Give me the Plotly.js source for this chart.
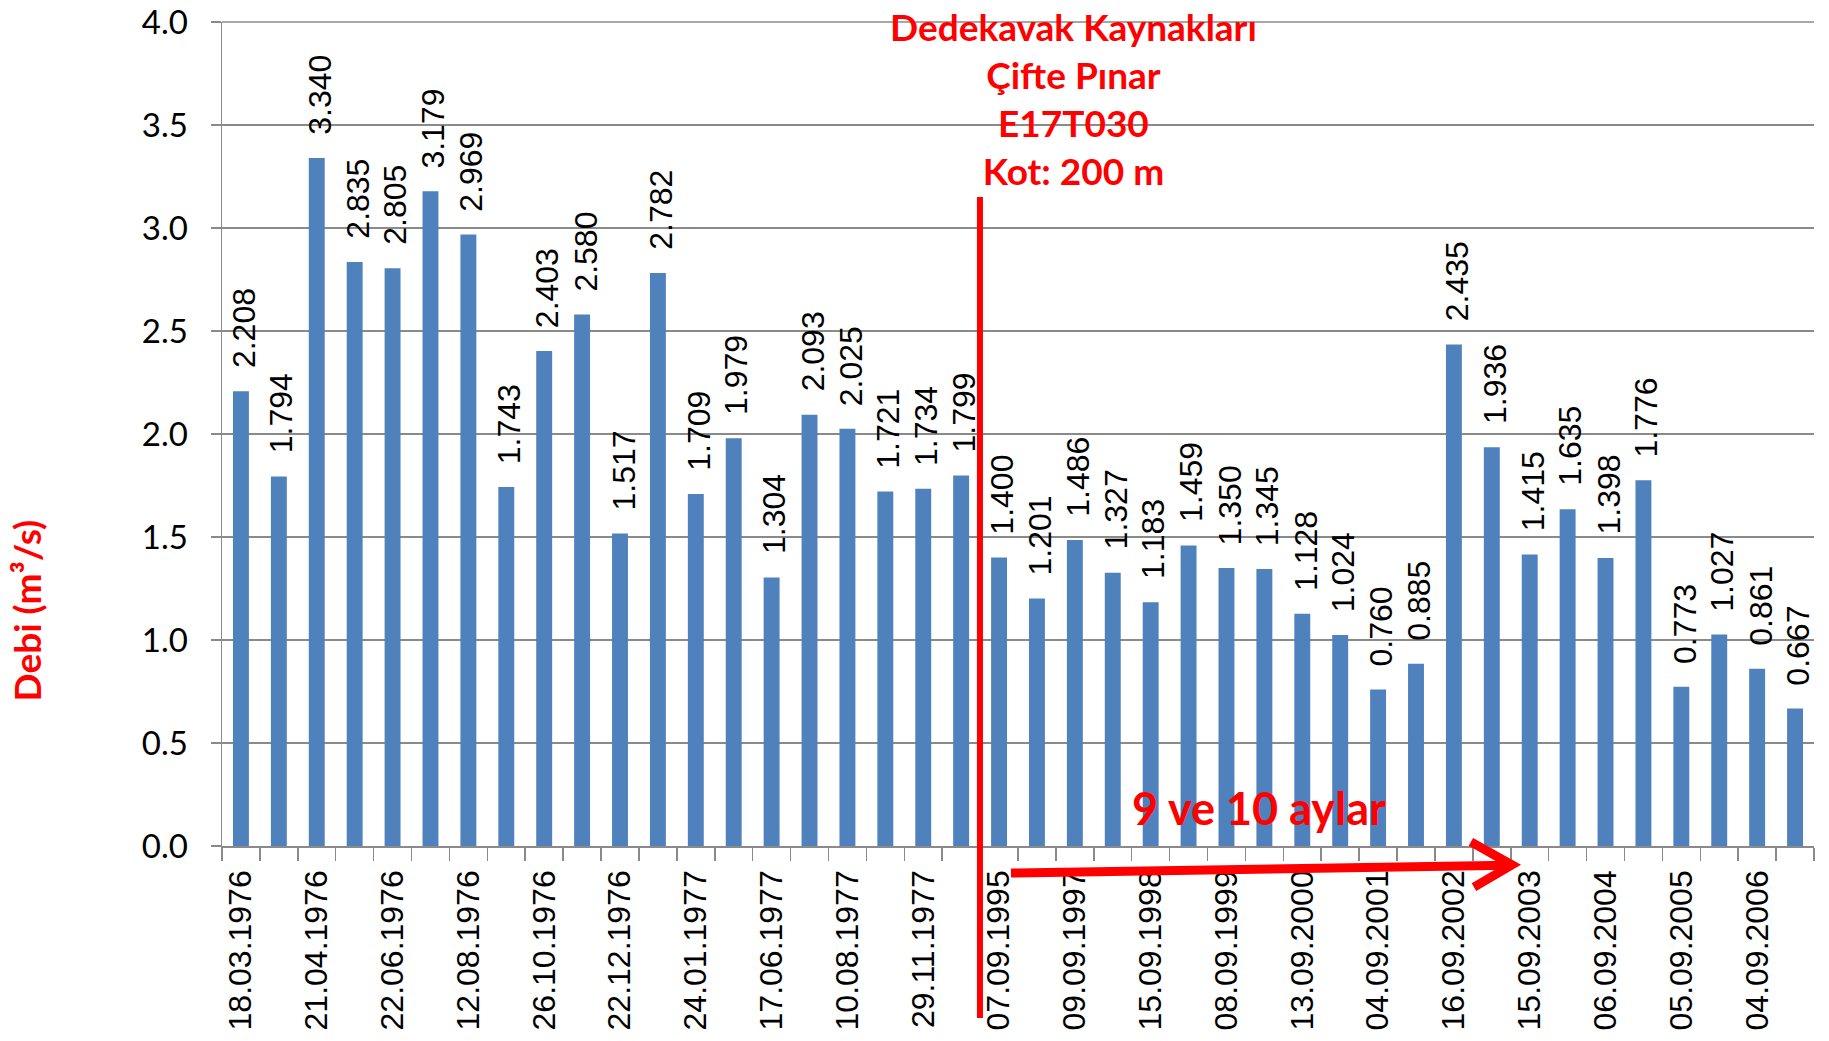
<!DOCTYPE html>
<html>
<head>
<meta charset="utf-8">
<script src="https://cdn.plot.ly/plotly-3.0.1.min.js"></script>
<style>
  html, body { margin: 0; padding: 0; background: #ffffff; }
  #chart { width: 1829px; height: 1041px; }
</style>
</head>
<body>
<div id="chart"></div>
<script>
// Tick labels shown under every second bar
const tickLabels = [
  "18.03.1976", "21.04.1976", "22.06.1976", "12.08.1976", "26.10.1976",
  "22.12.1976", "24.01.1977", "17.06.1977", "10.08.1977", "29.11.1977",
  "07.09.1995", "09.09.1997", "15.09.1998", "08.09.1999", "13.09.2000",
  "04.09.2001", "16.09.2002", "15.09.2003", "06.09.2004", "05.09.2005",
  "04.09.2006"
];

// Discharge (Debi, m³/s) for each measurement, in order
const debi = [
  2.208, 1.794, 3.340, 2.835, 2.805, 3.179, 2.969, 1.743, 2.403, 2.580,
  1.517, 2.782, 1.709, 1.979, 1.304, 2.093, 2.025, 1.721, 1.734, 1.799,
  1.400, 1.201, 1.486, 1.327, 1.183, 1.459, 1.350, 1.345, 1.128, 1.024,
  0.760, 0.885, 2.435, 1.936, 1.415, 1.635, 1.398, 1.776, 0.773, 1.027,
  0.861, 0.667
];

const yTitle = "Debi (m³/s)";
const titleLines = ["Dedekavak Kaynakları", "Çifte Pınar", "E17T030", "Kot: 200 m"];
const periodNote = "9 ve 10 aylar";

const positions = debi.map((v, i) => i);
const tickPositions = tickLabels.map((t, i) => i * 2);

const RED = "#FF0000";
const GRID = "#8a8a8a";
const labelFont = { family: "Liberation Sans, Arial, sans-serif", size: 32, color: "#000000" };
const redFont = (size) => ({ family: "Lato, Calibri, sans-serif", size: size, color: RED, weight: "bold" });

const barTrace = {
  type: "bar",
  x: positions,
  y: debi,
  marker: { color: "#4F81BD" },
  hoverinfo: "skip"
};

const valueLabels = debi.map((v, i) => ({
  x: positions[i],
  y: v,
  xref: "x",
  yref: "y",
  text: v.toFixed(3),
  textangle: -90,
  showarrow: false,
  xanchor: "center",
  yanchor: "bottom",
  yshift: 21,
  xshift: 3,
  font: labelFont
}));

// plot area: top 22px, bottom at 846px of a 1041px page
const layout = {
  width: 1829,
  height: 1041,
  margin: { l: 222, r: 15, t: 22, b: 195 },
  paper_bgcolor: "#ffffff",
  plot_bgcolor: "#ffffff",
  showlegend: false,
  bargap: 0.58,
  xaxis: {
    range: [-0.5, debi.length - 0.5],
    tickmode: "array",
    tickvals: tickPositions,
    ticktext: tickLabels,
    tickangle: -90,
    ticks: "",
    ticklabelstandoff: 10,
    showgrid: false,
    zeroline: false,
    showline: true,
    linecolor: GRID,
    linewidth: 1.5,
    tickfont: labelFont,
    minor: {
      tickmode: "linear",
      tick0: -0.5,
      dtick: 1,
      ticks: "outside",
      ticklen: 13,
      tickwidth: 1.5,
      tickcolor: GRID,
      showgrid: false
    },
    fixedrange: true
  },
  yaxis: {
    range: [0, 4],
    tickmode: "linear",
    tick0: 0,
    dtick: 0.5,
    tickformat: ".1f",
    ticks: "outside",
    ticklen: 10,
    tickwidth: 1.5,
    tickcolor: GRID,
    ticklabelstandoff: 16,
    ticklabeloverflow: "allow",
    showgrid: true,
    gridcolor: GRID,
    gridwidth: 1.5,
    zeroline: false,
    showline: true,
    linecolor: GRID,
    linewidth: 1.5,
    tickfont: { family: "Lato, Calibri, sans-serif", size: 33, color: "#000000" },
    fixedrange: true
  },
  shapes: [
    {
      type: "line", xref: "paper", yref: "paper",
      x0: 0, x1: 1, y0: 1, y1: 1,
      line: { color: GRID, width: 1.5 }
    },
    {
      type: "line", xref: "paper", yref: "paper",
      x0: 0.4761, x1: 0.4761, y0: -0.2087, y1: 0.7875,
      line: { color: RED, width: 6 }
    },
    {
      type: "path", xref: "paper", yref: "paper",
      path: "M 0.4956,-0.0328 L 0.8080,-0.0233",
      line: { color: RED, width: 9 }
    },
    {
      type: "path", xref: "paper", yref: "paper",
      path: "M 0.7845,0.0050 L 0.8103,-0.0230 L 0.7864,-0.0500",
      line: { color: RED, width: 9 }
    }
  ],
  annotations: valueLabels.concat([
    {
      xref: "paper", yref: "paper",
      x: 0.535, y: 0.907,
      xanchor: "center", yanchor: "middle",
      text: titleLines.join("<br>"),
      align: "center",
      showarrow: false,
      font: redFont(37)
    },
    {
      xref: "paper", yref: "paper",
      x: 0.6514, y: 0.046,
      xanchor: "center", yanchor: "middle",
      text: periodNote,
      showarrow: false,
      font: redFont(45)
    },
    {
      xref: "paper", yref: "paper",
      x: -0.123, y: 0.286,
      xanchor: "center", yanchor: "middle",
      text: yTitle,
      textangle: -90,
      showarrow: false,
      font: redFont(37)
    }
  ])
};

Plotly.newPlot("chart", [barTrace], layout, { staticPlot: true, displayModeBar: false });
</script>
</body>
</html>
